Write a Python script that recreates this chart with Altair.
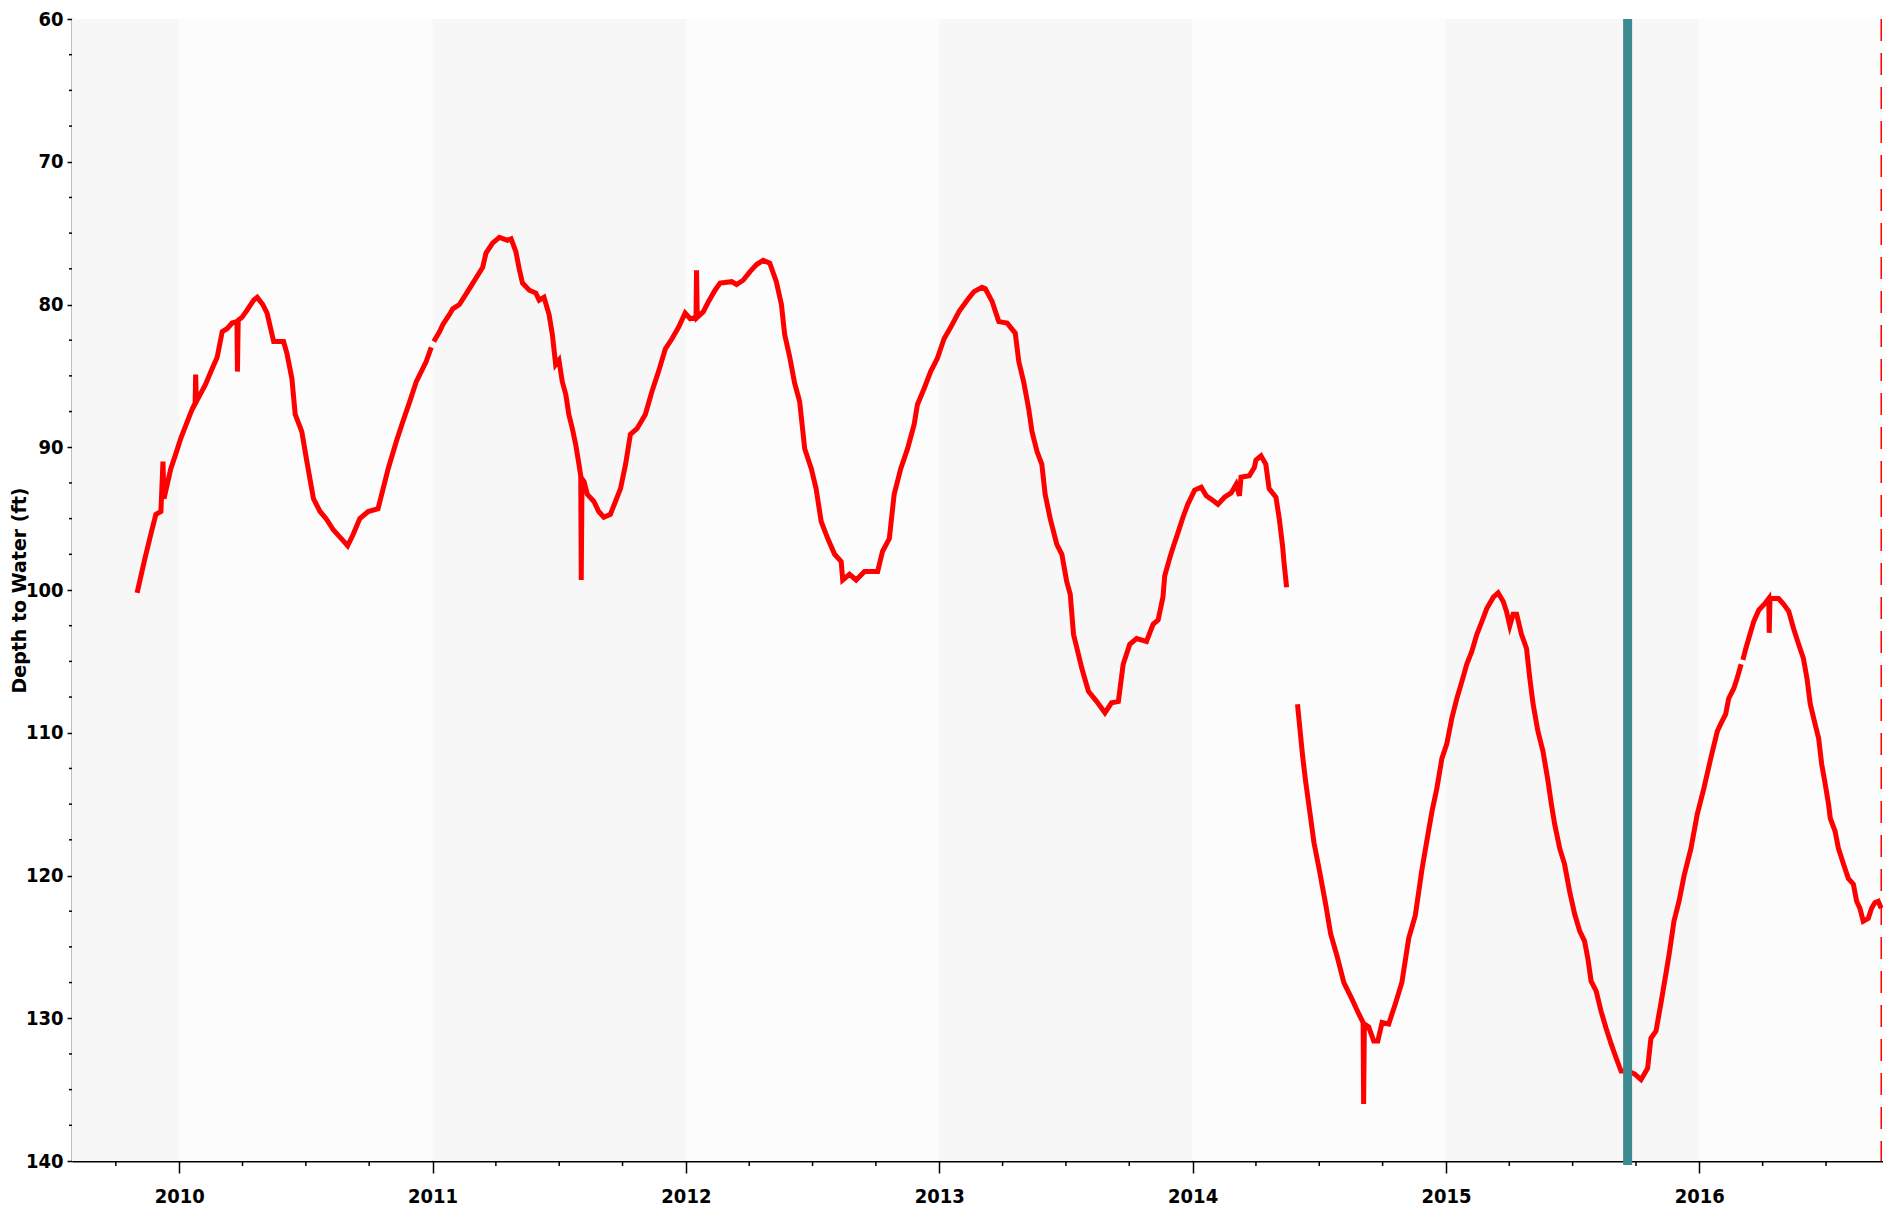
import altair as alt
import pandas as pd

# ---- data (decimal year, depth to water in ft) ----
years = [
    2009.834, 2009.862, 2009.888, 2009.908, 2009.928, 2009.936, 2009.940, 2009.967, 2009.986, 2010.006,
    2010.032, 2010.052, 2010.063, 2010.065, 2010.068, 2010.104, 2010.130, 2010.150, 2010.170, 2010.189,
    2010.209, 2010.228, 2010.230, 2010.233, 2010.248, 2010.268, 2010.294, 2010.308, 2010.330, 2010.347,
    2010.373, 2010.412, 2010.425, 2010.445, 2010.458, 2010.484, 2010.504, 2010.530, 2010.556, 2010.580,
    2010.609, 2010.640, 2010.665, 2010.687, 2010.713, 2010.746, 2010.785, 2010.805, 2010.825, 2010.857,
    2010.883, 2010.910, 2010.936, 2010.975, 2010.995,
    2011.005, 2011.028, 2011.041, 2011.067, 2011.080, 2011.106, 2011.145, 2011.198, 2011.211, 2011.237,
    2011.264, 2011.296, 2011.310, 2011.329, 2011.342, 2011.355, 2011.382, 2011.408, 2011.421, 2011.440,
    2011.460, 2011.473, 2011.486, 2011.499, 2011.512, 2011.526, 2011.538, 2011.552, 2011.565, 2011.578,
    2011.585, 2011.587, 2011.590, 2011.598, 2011.611, 2011.637, 2011.656, 2011.676, 2011.702, 2011.722,
    2011.742, 2011.762, 2011.781, 2011.807, 2011.840, 2011.866, 2011.892, 2011.919, 2011.945, 2011.971,
    2011.997, 2012.017, 2012.040, 2012.042, 2012.045, 2012.069, 2012.089, 2012.115, 2012.135, 2012.181,
    2012.200, 2012.226, 2012.253, 2012.279, 2012.305, 2012.331, 2012.357, 2012.377, 2012.390, 2012.410,
    2012.429, 2012.449, 2012.469, 2012.495, 2012.514, 2012.534, 2012.560, 2012.587, 2012.613, 2012.619,
    2012.646, 2012.672, 2012.705, 2012.757, 2012.776, 2012.803, 2012.822, 2012.848, 2012.875, 2012.901,
    2012.914, 2012.940, 2012.966, 2012.992, 2013.019, 2013.045, 2013.078, 2013.110, 2013.137, 2013.169,
    2013.182, 2013.209, 2013.235, 2013.268, 2013.300, 2013.314, 2013.333, 2013.353, 2013.366, 2013.386,
    2013.405, 2013.418, 2013.438, 2013.464, 2013.484, 2013.503, 2013.517, 2013.530, 2013.563, 2013.589,
    2013.621, 2013.654, 2013.680, 2013.707, 2013.726, 2013.752, 2013.779, 2013.818, 2013.844, 2013.864,
    2013.883, 2013.890, 2013.909, 2013.923, 2013.942, 2013.962, 2013.981, 2014.008, 2014.034, 2014.054,
    2014.086, 2014.100, 2014.126, 2014.152, 2014.172, 2014.185, 2014.191, 2014.224, 2014.244, 2014.250,
    2014.270, 2014.289, 2014.302, 2014.329, 2014.342, 2014.355, 2014.361, 2014.371,
    2014.414, 2014.434, 2014.446, 2014.460, 2014.479, 2014.499, 2014.525, 2014.545, 2014.571, 2014.597,
    2014.630, 2014.656, 2014.673, 2014.675, 2014.678, 2014.695, 2014.715, 2014.731, 2014.748, 2014.774,
    2014.800, 2014.826, 2014.853, 2014.879, 2014.905, 2014.931, 2014.945, 2014.964, 2014.984, 2015.003,
    2015.023, 2015.043, 2015.063, 2015.082, 2015.102, 2015.122, 2015.142, 2015.161, 2015.187, 2015.206,
    2015.226, 2015.239, 2015.252, 2015.265, 2015.279, 2015.298, 2015.318, 2015.331, 2015.344, 2015.363,
    2015.383, 2015.403, 2015.416, 2015.429, 2015.449, 2015.468, 2015.488, 2015.508, 2015.528, 2015.547,
    2015.560, 2015.573, 2015.593, 2015.612, 2015.632, 2015.652, 2015.672, 2015.691, 2015.717, 2015.744,
    2015.770, 2015.796, 2015.809, 2015.829, 2015.848, 2015.868, 2015.881, 2015.900, 2015.920, 2015.940,
    2015.967, 2015.992, 2016.018, 2016.045, 2016.071, 2016.084, 2016.104, 2016.116, 2016.136, 2016.149,
    2016.165,
    2016.172, 2016.182, 2016.195, 2016.215, 2016.235, 2016.261, 2016.274, 2016.276, 2016.279, 2016.294,
    2016.313, 2016.333, 2016.353, 2016.372, 2016.392, 2016.411, 2016.425, 2016.438, 2016.457, 2016.471,
    2016.483, 2016.497, 2016.510, 2016.517, 2016.536, 2016.549, 2016.569, 2016.588, 2016.608, 2016.621,
    2016.634, 2016.647, 2016.667, 2016.680, 2016.693, 2016.706, 2016.718,
]
depth = [
    100.2, 98.0, 96.1, 94.7, 94.5, 91.0, 93.6, 91.5, 90.5, 89.4,
    88.2, 87.3, 86.9, 84.9, 86.8, 85.6, 84.5, 83.7, 81.9, 81.7,
    81.3, 81.2, 84.7, 81.1, 80.9, 80.4, 79.7, 79.5, 80.0, 80.6,
    82.6, 82.6, 83.4, 85.2, 87.7, 88.9, 91.0, 93.6, 94.5, 95.0,
    95.8, 96.4, 96.9, 96.1, 95.0, 94.5, 94.3, 92.9, 91.5, 89.6,
    88.2, 86.8, 85.4, 84.0, 83.0,
    82.6, 81.9, 81.4, 80.7, 80.3, 80.0, 78.9, 77.4, 76.4, 75.7,
    75.3, 75.5, 75.4, 76.3, 77.5, 78.5, 79.0, 79.2, 79.7, 79.5,
    80.7, 82.1, 84.2, 83.9, 85.4, 86.3, 87.7, 88.7, 89.8, 91.2,
    92.0, 99.3, 92.2, 92.4, 93.3, 93.8, 94.5, 94.9, 94.7, 93.8,
    92.9, 91.2, 89.1, 88.7, 87.7, 86.1, 84.7, 83.1, 82.4, 81.6,
    80.6, 81.0, 80.9, 77.6, 80.9, 80.5, 79.8, 79.0, 78.5, 78.4,
    78.6, 78.3, 77.7, 77.2, 76.9, 77.1, 78.4, 80.0, 82.1, 83.7,
    85.5, 86.8, 90.1, 91.5, 92.9, 95.2, 96.4, 97.5, 98.0, 99.3,
    98.9, 99.3, 98.7, 98.7, 97.3, 96.4, 93.3, 91.5, 90.1, 88.4,
    87.0, 85.9, 84.7, 83.8, 82.4, 81.6, 80.5, 79.7, 79.1, 78.8,
    78.9, 79.8, 81.2, 81.3, 82.0, 84.0, 85.4, 87.3, 88.9, 90.3,
    91.2, 93.3, 95.0, 96.8, 97.5, 99.4, 100.3, 103.1, 105.5, 107.1,
    107.8, 108.6, 107.9, 107.8, 105.2, 103.8, 103.4, 103.6, 102.4, 102.1,
    100.5, 99.0, 97.8, 97.0, 96.0, 94.9, 94.0, 93.0, 92.8, 93.4,
    93.8, 94.0, 93.5, 93.2, 92.6, 93.4, 92.1, 92.0, 91.4, 90.9,
    90.6, 91.2, 92.9, 93.5, 95.0, 96.9, 98.1, 99.8,
    108.0, 111.6, 113.4, 115.2, 117.7, 119.5, 122.0, 124.1, 125.7, 127.5,
    128.7, 129.7, 130.3, 136.0, 130.4, 130.6, 131.6, 131.6, 130.3, 130.4,
    129.0, 127.5, 124.4, 122.8, 119.6, 116.9, 115.5, 113.9, 111.8, 110.8,
    109.0, 107.6, 106.4, 105.2, 104.3, 103.1, 102.2, 101.3, 100.5, 100.2,
    100.8, 101.5, 102.5, 101.7, 101.7, 103.1, 104.1, 106.2, 108.0, 109.9,
    111.3, 113.4, 115.0, 116.4, 118.1, 119.2, 121.1, 122.7, 123.9, 124.6,
    125.8, 127.4, 128.1, 129.5, 130.7, 131.8, 132.8, 133.7, 133.7, 133.9,
    134.3, 133.5, 131.4, 130.9, 129.0, 126.9, 125.5, 123.2, 121.8, 120.0,
    118.1, 115.7, 113.9, 111.8, 109.9, 109.4, 108.7, 107.6, 106.9, 106.2,
    105.2,
    104.9, 104.2, 103.4, 102.2, 101.4, 100.9, 100.6, 103.0, 100.6, 100.6,
    100.6, 101.0, 101.5, 102.7, 103.8, 104.8, 106.2, 108.0, 109.4, 110.4,
    112.2, 113.6, 115.0, 116.0, 116.9, 118.1, 119.2, 120.2, 120.6, 121.8,
    122.3, 123.2, 123.0, 122.3, 121.9, 121.8, 122.3,
]
gap_after = [2010.995, 2014.371, 2016.165]   # record breaks in the series

year_ticks = [2010, 2011, 2012, 2013, 2014, 2015, 2016]
quarter_ticks = [2009.75, 2010.25, 2010.5, 2010.75, 2011.25, 2011.5, 2011.75,
                 2012.25, 2012.5, 2012.75, 2013.25, 2013.5, 2013.75, 2014.25,
                 2014.5, 2014.75, 2015.25, 2015.5, 2015.75, 2016.25, 2016.5]
depth_ticks = [60, 70, 80, 90, 100, 110, 120, 130, 140]
depth_minor = [62.5, 65, 67.5, 72.5, 75, 77.5, 82.5, 85, 87.5, 92.5, 95, 97.5,
               102.5, 105, 107.5, 112.5, 115, 117.5, 122.5, 125, 127.5, 132.5, 135, 137.5]
x_domain = [2009.577, 2016.725]
band_start = [2009.577, 2010, 2011, 2012, 2013, 2014, 2015, 2016]
band_end = [2010, 2011, 2012, 2013, 2014, 2015, 2016, 2016.725]
band_shade = ["#f7f7f7", "#fcfcfc", "#f7f7f7", "#fcfcfc", "#f7f7f7", "#fcfcfc", "#f7f7f7", "#fcfcfc"]
marker_teal = [2015.717]
marker_red = [2016.718]

# ---- layout ----
W, H = 1811, 1142
LABEL_FONT = "Liberation Sans Narrow, DejaVu Sans Condensed, sans-serif"

seg = [sum(1 for g in gap_after if y > g) for y in years]
df = pd.DataFrame({"year": years, "depth": depth, "seg": seg})
bands = pd.DataFrame({"start": band_start, "end": band_end, "shade": band_shade})

xs = alt.Scale(domain=x_domain, nice=False, zero=False)
ys = alt.Scale(domain=[60, 140], reverse=True, nice=False, zero=False)

x_axis = alt.Axis(values=year_ticks, format="d", tickSize=12, tickWidth=1.5, tickColor="black",
                  domainColor="black", domainWidth=2, labelFont=LABEL_FONT, labelFontSize=20,
                  labelFontWeight="bold", labelColor="black", labelPadding=13, labelFlush=False,
                  grid=False, title=None)
y_axis = alt.Axis(values=depth_ticks, tickSize=5, tickWidth=1.5, tickColor="black",
                  domainColor="black", domainWidth=1.5, labelFont=LABEL_FONT, labelFontSize=20,
                  labelFontWeight="bold", labelColor="black", labelPadding=4, grid=False,
                  title="Depth to Water (ft)", titleFont="DejaVu Sans", titleFontSize=19,
                  titleFontWeight="bold", titleColor="black", titleAngle=-90, titleX=-53,
                  titleY=H / 2, titleAlign="center", titleBaseline="middle")

band_layer = alt.Chart(bands).mark_rect().encode(
    x=alt.X("start:Q", scale=xs, axis=x_axis),
    x2="end:Q",
    y=alt.value(0), y2=alt.value(H),
    color=alt.Color("shade:N", scale=None),
)

line_layer = alt.Chart(df).mark_line(color="#ff0000", strokeWidth=5).encode(
    x=alt.X("year:Q", scale=xs, axis=x_axis),
    y=alt.Y("depth:Q", scale=ys, axis=y_axis),
    detail="seg:N",
)

teal_layer = alt.Chart(pd.DataFrame({"x": marker_teal})).mark_rule(
    color="#3d8a91", strokeWidth=9).encode(
    x=alt.X("x:Q", scale=xs, axis=x_axis), y=alt.value(0), y2=alt.value(H + 4))

red_layer = alt.Chart(pd.DataFrame({"x": marker_red})).mark_rule(
    color="#ff0000", strokeWidth=1.5, strokeDash=[22, 12]).encode(
    x=alt.X("x:Q", scale=xs, axis=x_axis), y=alt.value(0), y2=alt.value(H))

xminor = alt.Chart(pd.DataFrame({"q": quarter_ticks})).mark_rule(
    color="black", strokeWidth=1.5).encode(
    x=alt.X("q:Q", scale=xs, axis=x_axis), y=alt.value(H), y2=alt.value(H + 5))

yminor = alt.Chart(pd.DataFrame({"v": depth_minor})).mark_rule(
    color="black", strokeWidth=1.5).encode(
    y=alt.Y("v:Q", scale=ys, axis=y_axis), x=alt.value(-3), x2=alt.value(0))

chart = alt.layer(band_layer, line_layer, teal_layer, red_layer, xminor, yminor).properties(
    width=W, height=H,
    padding={"left": 64, "top": 11, "right": 0, "bottom": 48},
    autosize=alt.AutoSizeParams(type="none"),
    background="white",
).configure_view(strokeWidth=0)

chart.save("out.html", embed_options={"renderer": "svg", "actions": False})
